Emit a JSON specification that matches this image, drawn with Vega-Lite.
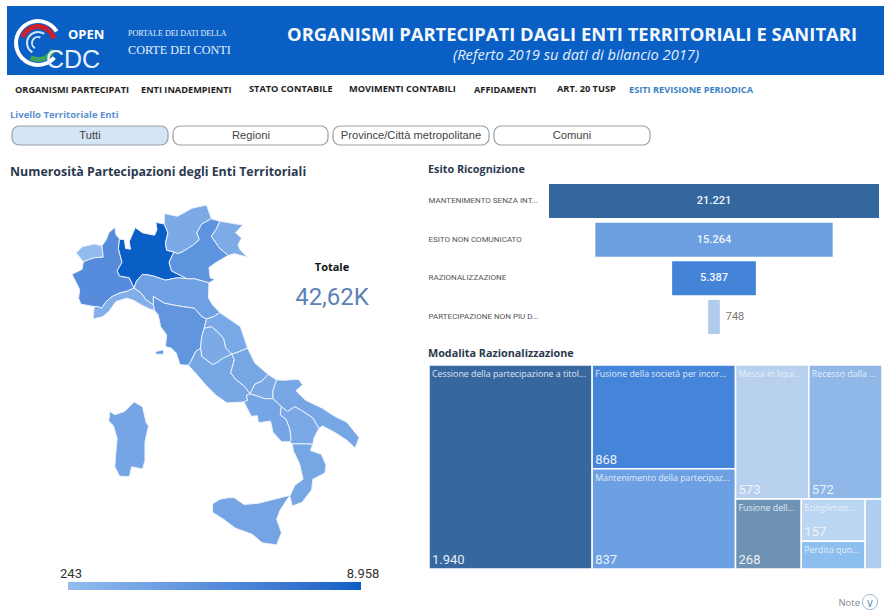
{"$schema":"https://vega.github.io/schema/vega-lite/v6.json","width":884,"height":611,"autosize":"none","padding":0,"background":"white","config":{"view":{"stroke":null},"locale":{"number":{"decimal":",","thousands":".","grouping":[3],"currency":["€",""]}}},"data":{"values":[{"k":1}]},"resolve":{"scale":{"x":"independent","y":"independent","color":"independent"}},"layer":[
{"mark":{"type":"rect","x":7,"x2":884,"y":6,"y2":75,"fill":"#0A5FC4"},"encoding":{}},
{"mark":{"type":"rule","x":6,"x2":884,"y":105,"y2":105,"stroke":"#C9CDD2","strokeWidth":1},"encoding":{}},
{"mark":{"type":"rule","x":6,"y":6,"y2":105,"stroke":"#D5D8DC","strokeWidth":1},"encoding":{}},
{"mark":{"type":"rule","x":622,"x2":763,"y":105,"y2":105,"stroke":"#3F7CC0","strokeWidth":2},"encoding":{}},
{"mark":{"type":"arc","x":38,"y":43,"radius":24,"radius2":20,"theta":2.3,"theta2":7.3,"fill":"white"},"encoding":{}},
{"mark":{"type":"arc","x":38,"y":43,"radius":19,"radius2":14,"theta":-1.2,"theta2":1.3,"fill":"#C8202F"},"encoding":{}},
{"mark":{"type":"arc","x":38,"y":43,"radius":19,"radius2":14,"theta":2.0,"theta2":3.6,"fill":"#3FA35B"},"encoding":{}},
{"mark":{"type":"arc","x":38,"y":43,"radius":12,"radius2":10,"theta":-2.6,"theta2":0.6,"fill":"#CFE3F7"},"encoding":{}},
{"mark":{"type":"arc","x":38,"y":43,"radius":7,"radius2":5,"theta":-2.6,"theta2":0.4,"fill":"#CFE3F7"},"encoding":{}},
{"mark":{"type":"text","x":68,"y":35,"text":"OPEN","align":"left","baseline":"middle","font":"Open Sans","fontWeight":"bold","fontSize":13,"color":"white"},"encoding":{}},
{"mark":{"type":"text","x":46,"y":60,"text":"CDC","align":"left","baseline":"middle","font":"Liberation Sans","fontSize":25,"color":"#E8F1FB"},"encoding":{}},
{"mark":{"type":"rule","x":119,"y":23,"y2":64,"stroke":"#6FA5E4","strokeWidth":1},"encoding":{}},
{"mark":{"type":"text","x":128,"y":34,"text":"PORTALE DEI DATI DELLA","align":"left","baseline":"middle","font":"Liberation Serif","fontSize":8,"color":"#E8F1FB"},"encoding":{}},
{"mark":{"type":"text","x":128,"y":50,"text":"CORTE DEI CONTI","align":"left","baseline":"middle","font":"Liberation Serif","fontSize":12.2,"color":"#E8F1FB"},"encoding":{}},
{"mark":{"type":"text","x":287,"y":35,"text":"ORGANISMI PARTECIPATI DAGLI ENTI TERRITORIALI E SANITARI","align":"left","baseline":"middle","font":"Open Sans","fontWeight":"bold","fontSize":18.4,"color":"#F4F8FD"},"encoding":{}},
{"mark":{"type":"text","x":453,"y":56,"text":"(Referto 2019 su dati di bilancio 2017)","align":"left","baseline":"middle","font":"Open Sans","fontStyle":"italic","fontSize":14.7,"color":"#E3EEFA"},"encoding":{}},
{"mark":{"type":"text","x":15,"y":90,"text":"ORGANISMI PARTECIPATI","align":"left","baseline":"middle","font":"Open Sans","fontWeight":"bold","fontSize":9.2,"color":"#1E1E1E"},"encoding":{}},
{"mark":{"type":"text","x":141,"y":90,"text":"ENTI INADEMPIENTI","align":"left","baseline":"middle","font":"Open Sans","fontWeight":"bold","fontSize":9.2,"color":"#1E1E1E"},"encoding":{}},
{"mark":{"type":"text","x":249,"y":89,"text":"STATO CONTABILE","align":"left","baseline":"middle","font":"Open Sans","fontWeight":"bold","fontSize":9.2,"color":"#1E1E1E"},"encoding":{}},
{"mark":{"type":"text","x":349,"y":89,"text":"MOVIMENTI CONTABILI","align":"left","baseline":"middle","font":"Open Sans","fontWeight":"bold","fontSize":9.2,"color":"#1E1E1E"},"encoding":{}},
{"mark":{"type":"text","x":474,"y":90,"text":"AFFIDAMENTI","align":"left","baseline":"middle","font":"Open Sans","fontWeight":"bold","fontSize":9.2,"color":"#1E1E1E"},"encoding":{}},
{"mark":{"type":"text","x":557,"y":89,"text":"ART. 20 TUSP","align":"left","baseline":"middle","font":"Open Sans","fontWeight":"bold","fontSize":9.2,"color":"#1E1E1E"},"encoding":{}},
{"mark":{"type":"text","x":629,"y":90,"text":"ESITI REVISIONE PERIODICA","align":"left","baseline":"middle","font":"Open Sans","fontWeight":"bold","fontSize":9.2,"color":"#3B82C4"},"encoding":{}},
{"mark":{"type":"text","x":10,"y":115,"text":"Livello Territoriale Enti","align":"left","baseline":"middle","font":"Open Sans","fontWeight":"bold","fontSize":9.5,"color":"#5B8FD0"},"encoding":{}},
{"mark":{"type":"rect","x":12,"x2":168,"y":126,"y2":145,"fill":"#D4E5F7","stroke":"#9A9FA5","strokeWidth":1.2,"cornerRadius":7},"encoding":{}},
{"mark":{"type":"rect","x":173,"x2":328,"y":126,"y2":145,"fill":"white","stroke":"#9A9FA5","strokeWidth":1.2,"cornerRadius":7},"encoding":{}},
{"mark":{"type":"rect","x":333,"x2":489,"y":126,"y2":145,"fill":"white","stroke":"#9A9FA5","strokeWidth":1.2,"cornerRadius":7},"encoding":{}},
{"mark":{"type":"rect","x":494,"x2":650,"y":126,"y2":145,"fill":"white","stroke":"#9A9FA5","strokeWidth":1.2,"cornerRadius":7},"encoding":{}},
{"mark":{"type":"text","x":90,"y":136,"text":"Tutti","align":"center","baseline":"middle","font":"Liberation Sans","fontSize":11.2,"color":"#444444"},"encoding":{}},
{"mark":{"type":"text","x":251,"y":136,"text":"Regioni","align":"center","baseline":"middle","font":"Liberation Sans","fontSize":11.2,"color":"#444444"},"encoding":{}},
{"mark":{"type":"text","x":411,"y":136,"text":"Province/Città metropolitane","align":"center","baseline":"middle","font":"Liberation Sans","fontSize":11.2,"color":"#444444"},"encoding":{}},
{"mark":{"type":"text","x":572,"y":136,"text":"Comuni","align":"center","baseline":"middle","font":"Liberation Sans","fontSize":11.2,"color":"#444444"},"encoding":{}},
{"mark":{"type":"text","x":10,"y":172,"text":"Numerosità Partecipazioni degli Enti Territoriali","align":"left","baseline":"middle","font":"Open Sans","fontWeight":"bold","fontSize":12.4,"color":"#2B3A4E"},"encoding":{}},
{"mark":{"type":"text","x":428,"y":170,"text":"Esito Ricognizione","align":"left","baseline":"middle","font":"Open Sans","fontWeight":"bold","fontSize":10.8,"color":"#2B3A4E"},"encoding":{}},
{"mark":{"type":"text","x":428,"y":354,"text":"Modalita Razionalizzazione","align":"left","baseline":"middle","font":"Open Sans","fontWeight":"bold","fontSize":10.8,"color":"#2B3A4E"},"encoding":{}},
{"mark":{"type":"text","x":332,"y":268,"text":"Totale","align":"center","baseline":"middle","font":"Open Sans","fontWeight":"bold","fontSize":11,"color":"#111111"},"encoding":{}},
{"mark":{"type":"text","x":332,"y":298,"text":"42,62K","align":"center","baseline":"middle","font":"Roboto","fontSize":24,"color":"#5C82B4"},"encoding":{}},
{"mark":{"type":"text","x":860,"y":603,"text":"Note","align":"right","baseline":"middle","font":"Open Sans","fontSize":9.5,"color":"#7F8790"},"encoding":{}},
{"mark":{"type":"point","x":870,"y":602,"size":230,"stroke":"#7A9CC6","strokeWidth":1,"filled":false},"encoding":{}},
{"mark":{"type":"text","x":870,"y":603,"text":"∨","align":"center","baseline":"middle","font":"DejaVu Sans","fontSize":12,"color":"#7A9CC6"},"encoding":{}},
{"data":{"values":{"type":"FeatureCollection","features":[
{"type":"Feature","properties":{"regione":"Valle d'Aosta","partecipazioni":243},"geometry":{"type":"Polygon","coordinates":[[[6.8,45.72],[7.05,45.9],[7.55,45.98],[7.87,45.93],[7.92,45.6],[7.55,45.58],[7.1,45.47],[6.8,45.72]]]}},
{"type":"Feature","properties":{"regione":"Piemonte","partecipazioni":4700},"geometry":{"type":"Polygon","coordinates":[[[7.87,45.93],[8.05,46.1],[8.15,46.3],[8.4,46.46],[8.45,46.25],[8.6,46.12],[8.55,45.85],[8.7,45.45],[8.5,45.2],[8.6,45.05],[9.0,45.0],[9.2,44.7],[8.9,44.6],[8.6,44.55],[8.3,44.45],[8.05,44.3],[7.85,44.1],[7.7,44.15],[7.55,44.15],[7.0,44.22],[6.9,44.4],[6.95,44.65],[6.63,45.1],[7.05,45.25],[7.1,45.47],[7.55,45.58],[7.92,45.6],[7.87,45.93]]]}},
{"type":"Feature","properties":{"regione":"Lombardia","partecipazioni":8958},"geometry":{"type":"Polygon","coordinates":[[[8.6,46.12],[8.8,46.1],[8.85,45.85],[9.05,45.83],[9.0,46.05],[9.25,46.45],[9.55,46.3],[10.05,46.23],[10.15,46.4],[10.1,46.6],[10.45,46.55],[10.6,46.3],[10.5,46.0],[10.55,45.8],[10.85,45.75],[10.65,45.45],[10.75,45.2],[11.4,44.97],[11.0,45.0],[10.5,44.93],[10.0,45.05],[9.8,45.08],[9.55,45.1],[9.3,44.9],[9.2,44.7],[9.0,45.0],[8.6,45.05],[8.5,45.2],[8.7,45.45],[8.55,45.85],[8.6,46.12]]]}},
{"type":"Feature","properties":{"regione":"Trentino-Alto Adige","partecipazioni":1900},"geometry":{"type":"Polygon","coordinates":[[[10.45,46.55],[10.45,46.85],[11.0,46.77],[11.6,47.0],[12.2,47.09],[12.4,46.7],[12.0,46.55],[11.8,46.3],[11.9,46.1],[11.65,45.95],[11.2,45.75],[11.0,45.7],[10.85,45.75],[10.55,45.8],[10.5,46.0],[10.6,46.3],[10.45,46.55]]]}},
{"type":"Feature","properties":{"regione":"Veneto","partecipazioni":4100},"geometry":{"type":"Polygon","coordinates":[[[12.4,46.7],[12.75,46.63],[12.6,46.4],[12.4,46.2],[12.55,46.05],[12.75,45.85],[13.1,45.65],[12.6,45.45],[12.3,45.3],[12.35,45.0],[12.55,44.95],[12.3,44.85],[11.7,44.97],[11.4,44.97],[10.75,45.2],[10.65,45.45],[10.85,45.75],[11.0,45.7],[11.2,45.75],[11.65,45.95],[11.9,46.1],[11.8,46.3],[12.0,46.55],[12.4,46.7]]]}},
{"type":"Feature","properties":{"regione":"Friuli-Venezia Giulia","partecipazioni":1800},"geometry":{"type":"Polygon","coordinates":[[[12.75,46.63],[13.7,46.52],[13.4,46.3],[13.65,46.15],[13.5,45.95],[13.6,45.8],[13.9,45.6],[13.35,45.7],[13.1,45.65],[12.75,45.85],[12.55,46.05],[12.4,46.2],[12.6,46.4],[12.75,46.63]]]}},
{"type":"Feature","properties":{"regione":"Liguria","partecipazioni":1500},"geometry":{"type":"Polygon","coordinates":[[[7.55,44.15],[7.7,44.15],[7.85,44.1],[8.05,44.3],[8.3,44.45],[8.6,44.55],[8.9,44.6],[9.2,44.7],[9.5,44.55],[9.7,44.35],[10.0,44.2],[10.05,44.03],[9.85,44.08],[9.5,44.2],[9.2,44.33],[8.9,44.4],[8.45,44.3],[8.15,44.0],[7.9,43.85],[7.5,43.78],[7.55,44.15]]]}},
{"type":"Feature","properties":{"regione":"Emilia-Romagna","partecipazioni":2900},"geometry":{"type":"Polygon","coordinates":[[[9.2,44.7],[9.3,44.9],[9.55,45.1],[9.8,45.08],[10.0,45.05],[10.5,44.93],[11.0,45.0],[11.4,44.97],[11.7,44.97],[12.3,44.85],[12.28,44.4],[12.45,44.2],[12.75,43.97],[12.5,43.85],[12.2,43.78],[12.0,43.85],[11.7,44.1],[11.2,44.15],[10.8,44.2],[10.45,44.25],[10.0,44.45],[10.0,44.2],[9.7,44.35],[9.5,44.55],[9.2,44.7]]]}},
{"type":"Feature","properties":{"regione":"Toscana","partecipazioni":3900},"geometry":{"type":"MultiPolygon","coordinates":[[[[10.0,44.2],[10.0,44.45],[10.45,44.25],[10.8,44.2],[11.2,44.15],[11.7,44.1],[12.0,43.85],[12.2,43.78],[12.1,43.5],[12.0,43.25],[11.95,42.9],[11.75,42.8],[11.55,42.5],[11.45,42.38],[11.1,42.4],[10.95,42.75],[10.75,42.9],[10.5,42.95],[10.55,43.3],[10.3,43.55],[10.2,43.9],[10.05,44.03],[10.0,44.2]]],[[[10.1,42.8],[10.42,42.85],[10.42,42.72],[10.1,42.72],[10.1,42.8]]]]}},
{"type":"Feature","properties":{"regione":"Marche","partecipazioni":2100},"geometry":{"type":"Polygon","coordinates":[[[12.75,43.97],[13.0,43.85],[13.6,43.55],[13.9,42.9],[13.5,42.78],[13.25,42.72],[13.0,42.9],[12.9,43.2],[12.65,43.4],[12.4,43.55],[12.1,43.5],[12.2,43.78],[12.5,43.85],[12.75,43.97]]]}},
{"type":"Feature","properties":{"regione":"Umbria","partecipazioni":1900},"geometry":{"type":"Polygon","coordinates":[[[12.1,43.5],[12.4,43.55],[12.65,43.4],[12.9,43.2],[13.0,42.9],[13.25,42.72],[12.9,42.6],[12.6,42.45],[12.45,42.4],[12.0,42.65],[11.95,42.9],[12.0,43.25],[12.1,43.5]]]}},
{"type":"Feature","properties":{"regione":"Lazio","partecipazioni":2300},"geometry":{"type":"Polygon","coordinates":[[[11.45,42.38],[11.55,42.5],[11.75,42.8],[11.95,42.9],[12.0,42.65],[12.45,42.4],[12.6,42.45],[12.9,42.6],[13.25,42.72],[13.35,42.55],[13.2,42.15],[13.4,41.95],[13.75,41.75],[14.0,41.5],[13.85,41.45],[13.9,41.3],[13.75,41.25],[13.05,41.22],[12.6,41.45],[12.2,41.75],[11.85,42.05],[11.45,42.38]]]}},
{"type":"Feature","properties":{"regione":"Abruzzo","partecipazioni":2300},"geometry":{"type":"Polygon","coordinates":[[[13.25,42.72],[13.5,42.78],[13.9,42.9],[14.2,42.45],[14.75,42.1],[14.5,41.9],[14.2,41.8],[14.0,41.5],[13.75,41.75],[13.4,41.95],[13.2,42.15],[13.35,42.55],[13.25,42.72]]]}},
{"type":"Feature","properties":{"regione":"Molise","partecipazioni":1900},"geometry":{"type":"Polygon","coordinates":[[[14.75,42.1],[15.1,41.93],[14.95,41.6],[14.95,41.35],[14.6,41.35],[14.35,41.42],[14.0,41.5],[14.2,41.8],[14.5,41.9],[14.75,42.1]]]}},
{"type":"Feature","properties":{"regione":"Campania","partecipazioni":2400},"geometry":{"type":"Polygon","coordinates":[[[13.9,41.3],[13.85,41.45],[14.0,41.5],[14.35,41.42],[14.6,41.35],[14.95,41.35],[15.1,41.25],[15.3,41.1],[15.25,40.85],[15.5,40.7],[15.65,40.4],[15.7,40.05],[15.65,40.0],[15.3,40.0],[14.95,40.3],[14.85,40.65],[14.35,40.6],[14.3,40.82],[14.05,40.8],[13.75,41.25],[13.9,41.3]]]}},
{"type":"Feature","properties":{"regione":"Puglia","partecipazioni":2300},"geometry":{"type":"Polygon","coordinates":[[[15.1,41.93],[15.4,41.92],[16.0,41.95],[16.18,41.78],[15.9,41.6],[16.3,41.3],[17.0,41.05],[17.5,40.8],[18.0,40.62],[18.52,40.13],[18.35,39.8],[18.0,40.05],[17.5,40.3],[17.0,40.5],[16.85,40.42],[16.6,40.75],[16.1,41.0],[15.85,41.1],[15.55,40.95],[15.3,41.1],[15.1,41.25],[14.95,41.35],[14.95,41.6],[15.1,41.93]]]}},
{"type":"Feature","properties":{"regione":"Basilicata","partecipazioni":2000},"geometry":{"type":"Polygon","coordinates":[[[15.25,40.85],[15.3,41.1],[15.55,40.95],[15.85,41.1],[16.1,41.0],[16.6,40.75],[16.85,40.42],[16.65,40.12],[16.6,39.92],[16.3,39.93],[15.75,39.93],[15.65,40.0],[15.7,40.05],[15.65,40.4],[15.5,40.7],[15.25,40.85]]]}},
{"type":"Feature","properties":{"regione":"Calabria","partecipazioni":2300},"geometry":{"type":"Polygon","coordinates":[[[15.75,39.93],[16.3,39.93],[16.6,39.92],[16.5,39.72],[16.95,39.6],[17.15,39.25],[17.1,39.0],[16.6,38.8],[16.55,38.45],[16.15,38.05],[15.75,37.93],[15.65,38.25],[15.85,38.6],[16.2,38.8],[16.05,39.3],[15.8,39.7],[15.75,39.93]]]}},
{"type":"Feature","properties":{"regione":"Sicilia","partecipazioni":2500},"geometry":{"type":"Polygon","coordinates":[[[12.45,38.0],[12.75,38.15],[13.1,38.2],[13.35,38.2],[13.75,37.98],[14.35,38.02],[15.0,38.15],[15.65,38.28],[15.25,37.8],[15.1,37.5],[15.3,37.05],[15.1,36.65],[14.5,36.72],[14.1,37.0],[13.4,37.2],[12.9,37.5],[12.45,37.72],[12.45,38.0]]]}},
{"type":"Feature","properties":{"regione":"Sardegna","partecipazioni":2400},"geometry":{"type":"Polygon","coordinates":[[[8.2,40.95],[8.4,40.85],[8.8,40.95],[9.2,41.25],[9.55,41.1],[9.7,40.6],[9.8,40.5],[9.65,40.0],[9.65,39.4],[9.55,39.13],[9.1,39.2],[9.0,38.88],[8.6,38.9],[8.4,39.2],[8.45,39.7],[8.5,40.1],[8.35,40.5],[8.15,40.65],[8.2,40.95]]]}}
]},"format":{"type":"json","property":"features"}},
"projection":{"type":"mercator","scale":1384,"center":[6.63,47.09],"translate":[72,205]},
"mark":{"type":"geoshape","stroke":"#EAF2FB","strokeWidth":1},
"encoding":{"color":{"field":"properties.partecipazioni","type":"quantitative","scale":{"domain":[243,8958],"range":["#93BCEE","#0A5FC6"]},"legend":{"title":null,"orient":"none","legendX":68,"legendY":582,"direction":"horizontal","gradientLength":293,"gradientThickness":8,"gradientStrokeWidth":0,"values":[243,8958],"labelOpacity":0,"labelFontSize":1}}}},
{"data":{"values":[{"estremo":243},{"estremo":8958}]},"mark":{"type":"text","y":574,"align":"center","baseline":"middle","font":"Roboto","fontSize":13,"color":"#333333"},"encoding":{"x":{"field":"estremo","type":"quantitative","axis":null,"scale":{"domain":[243,8958],"range":[71,363],"nice":false,"zero":false}},"text":{"field":"estremo","type":"quantitative","format":",d"}}},
{"data":{"values":[{"esito":"MANTENIMENTO SENZA INT...","numero":21221},{"esito":"ESITO NON COMUNICATO","numero":15264},{"esito":"RAZIONALIZZAZIONE","numero":5387},{"esito":"PARTECIPAZIONE NON PIU D...","numero":748}]},
"layer":[
{"mark":{"type":"bar"},"encoding":{"x":{"field":"numero","type":"quantitative","stack":"center","axis":null,"scale":{"domain":[0,21221],"range":[549,879],"nice":false,"zero":false}},"y":{"field":"esito","type":"nominal","sort":null,"axis":{"title":null,"orient":"left","offset":-428,"domain":false,"ticks":false,"labelAlign":"left","labelPadding":0,"labelFontSize":8,"labelFont":"Roboto","labelColor":"#555555","labelLimit":130},"scale":{"domain":["MANTENIMENTO SENZA INT...","ESITO NON COMUNICATO","RAZIONALIZZAZIONE","PARTECIPAZIONE NON PIU D..."],"range":[184,334],"paddingInner":0.117,"paddingOuter":0}},"color":{"field":"esito","type":"nominal","legend":null,"scale":{"domain":["MANTENIMENTO SENZA INT...","ESITO NON COMUNICATO","RAZIONALIZZAZIONE","PARTECIPAZIONE NON PIU D..."],"range":["#34679F","#6C9FDF","#4384D8","#B1CBEB"]}}}},
{"transform":[{"filter":"datum.numero>1000"}],"mark":{"type":"text","font":"Roboto","fontSize":11,"fontWeight":500,"color":"#F2F6FB"},"encoding":{"x":{"datum":10610.5},"y":{"field":"esito","type":"nominal","sort":null},"text":{"field":"numero","type":"quantitative","format":",d"}}},
{"transform":[{"filter":"datum.numero<1000"}],"mark":{"type":"text","font":"Roboto","fontSize":11,"color":"#777777","dx":21},"encoding":{"x":{"datum":10610.5},"y":{"field":"esito","type":"nominal","sort":null},"text":{"field":"numero","type":"quantitative","format":",d"}}}
]},
{"data":{"values":[
{"modalita":"Cessione della partecipazione a titol...","numero":1940,"blocco":"A","riga":"1","gruppo":"1","voce":"1"},
{"modalita":"Fusione della società per incor...","numero":868,"blocco":"B","riga":"1","gruppo":"1","voce":"1"},
{"modalita":"Mantenimento della partecipaz...","numero":837,"blocco":"B","riga":"2","gruppo":"1","voce":"1"},
{"modalita":"Messa in liqui...","numero":573,"blocco":"C","riga":"1","gruppo":"1","voce":"1"},
{"modalita":"Recesso dalla ...","numero":572,"blocco":"C","riga":"1","gruppo":"2","voce":"1"},
{"modalita":"Fusione dell...","numero":268,"blocco":"C","riga":"2","gruppo":"1","voce":"1"},
{"modalita":"Scioglimen...","numero":157,"blocco":"C","riga":"2","gruppo":"2","voce":"1"},
{"modalita":"Perdita quo...","numero":103,"blocco":"C","riga":"2","gruppo":"2","voce":"2"},
{"modalita":"Altro","numero":69,"blocco":"C","riga":"2","gruppo":"3","voce":"1"}
]},
"transform":[
{"stack":"numero","sort":[{"field":"blocco","order":"ascending"},{"field":"riga","order":"ascending"}],"as":["cs","ce"]},
{"joinaggregate":[{"op":"min","field":"cs","as":"cx0"},{"op":"max","field":"ce","as":"cx1"}],"groupby":["blocco"]},
{"stack":"numero","groupby":["blocco"],"sort":[{"field":"riga","order":"ascending"}],"offset":"normalize","as":["rs","re"]},
{"joinaggregate":[{"op":"min","field":"rs","as":"ry0"},{"op":"max","field":"re","as":"ry1"}],"groupby":["blocco","riga"]},
{"stack":"numero","groupby":["blocco","riga"],"sort":[{"field":"gruppo","order":"ascending"}],"offset":"normalize","as":["ts","te"]},
{"joinaggregate":[{"op":"min","field":"ts","as":"tx0"},{"op":"max","field":"te","as":"tx1"}],"groupby":["blocco","riga","gruppo"]},
{"stack":"numero","groupby":["blocco","riga","gruppo"],"sort":[{"field":"voce","order":"ascending"}],"offset":"normalize","as":["ls","le"]},
{"calculate":"datum.cx0+(datum.cx1-datum.cx0)*datum.tx0","as":"x0"},
{"calculate":"datum.cx0+(datum.cx1-datum.cx0)*datum.tx1","as":"x1"},
{"calculate":"datum.ry0+(datum.ry1-datum.ry0)*datum.ls","as":"y0"},
{"calculate":"datum.ry0+(datum.ry1-datum.ry0)*datum.le","as":"y1"}
],
"layer":[
{"mark":{"type":"rect","stroke":"white","strokeWidth":1.5},"encoding":{"x":{"field":"x0","type":"quantitative","axis":null,"scale":{"domain":[0,5387],"range":[429,882],"nice":false,"zero":false}},"x2":{"field":"x1"},"y":{"field":"y0","type":"quantitative","axis":null,"scale":{"domain":[0,1],"range":[365,569],"nice":false,"zero":false}},"y2":{"field":"y1"},"color":{"field":"modalita","type":"nominal","legend":null,"scale":{"domain":["Cessione della partecipazione a titol...","Fusione della società per incor...","Mantenimento della partecipaz...","Messa in liqui...","Recesso dalla ...","Fusione dell...","Scioglimen...","Perdita quo...","Altro"],"range":["#36679F","#4585D9","#6CA0E2","#B7D0EE","#8FB7E8","#6E92B3","#BAD6F2","#8DBFEE","#AFCDF0"]}}}},
{"transform":[{"filter":"datum.modalita!='Altro'"}],"mark":{"type":"text","align":"left","baseline":"middle","dx":3,"dy":9,"font":"Open Sans","fontSize":8.8,"color":"#EEF4FB","opacity":0.9},"encoding":{"x":{"field":"x0","type":"quantitative"},"y":{"field":"y0","type":"quantitative"},"text":{"field":"modalita","type":"nominal"}}},
{"transform":[{"filter":"datum.numero>=157"}],"mark":{"type":"text","align":"left","baseline":"middle","dx":3,"dy":-9,"font":"Roboto","fontSize":13,"color":"#F2F6FB","opacity":0.95},"encoding":{"x":{"field":"x0","type":"quantitative"},"y":{"field":"y1","type":"quantitative"},"text":{"field":"numero","type":"quantitative","format":",d"}}}
]}
]}
